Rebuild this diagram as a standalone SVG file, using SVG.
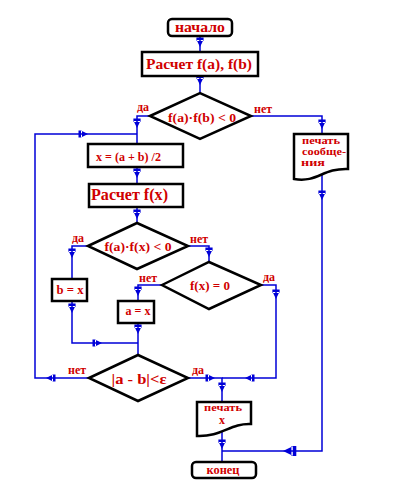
<svg xmlns="http://www.w3.org/2000/svg" xmlns:xlink="http://www.w3.org/1999/xlink" width="400" height="500" viewBox="0 0 400 500">
<style>
.sh{fill:#fff;stroke:#000;stroke-width:2.5;stroke-linejoin:miter}
.t{font-family:"Liberation Serif","Times New Roman",serif;font-weight:bold;fill:#d00000}
.c{fill:none;stroke:#0000d8;stroke-width:1.5}
.a{fill:#0000d8}
</style>
<defs>
<path id="ah" d="M0,0 L-7,-3.4 L-7,3.4 Z M-9.5,-3.6 H-6 V3.6 H-9.5 Z"/>
</defs>
<rect width="400" height="500" fill="#fff"/>
<g id="connectors">
<polyline class="c" points="200,36 200,52"/>
<polyline class="c" points="200,76 200,93"/>
<polyline class="c" points="150,116 137,116 137,144"/>
<polyline class="c" points="89,378 35,378 35,134 137,134"/>
<polyline class="c" points="137,167 137,184"/>
<polyline class="c" points="137,207 137,223"/>
<polyline class="c" points="251,116 322,116 322,134"/>
<polyline class="c" points="322,175 322,451 222,451"/>
<polyline class="c" points="88,246 72,246 72,279"/>
<polyline class="c" points="72,301 72,343 138,343"/>
<polyline class="c" points="188,246 209,246 209,262"/>
<polyline class="c" points="162,285 138,285 138,301"/>
<polyline class="c" points="138,323 138,355"/>
<polyline class="c" points="261,285 276,285 276,378 222,378"/>
<polyline class="c" points="188,378 222,378 222,402"/>
<polyline class="c" points="222,432 222,462"/>
<g class="a">
<use xlink:href="#ah" transform="translate(200,47) rotate(90)"/>
<use xlink:href="#ah" transform="translate(200,85) rotate(90)"/>
<use xlink:href="#ah" transform="translate(137,128) rotate(90)"/>
<use xlink:href="#ah" transform="translate(88,134)"/>
<use xlink:href="#ah" transform="translate(137,178) rotate(90)"/>
<use xlink:href="#ah" transform="translate(137,219) rotate(90)"/>
<use xlink:href="#ah" transform="translate(322,129) rotate(90)"/>
<use xlink:href="#ah" transform="translate(322,200) rotate(90)"/>
<use xlink:href="#ah" transform="translate(72,258) rotate(90)"/>
<use xlink:href="#ah" transform="translate(209,257) rotate(90)"/>
<use xlink:href="#ah" transform="translate(138,296) rotate(90)"/>
<use xlink:href="#ah" transform="translate(72,313) rotate(90)"/>
<use xlink:href="#ah" transform="translate(102,343)"/>
<use xlink:href="#ah" transform="translate(138,334) rotate(90)"/>
<use xlink:href="#ah" transform="translate(276,299) rotate(90)"/>
<use xlink:href="#ah" transform="translate(46,378) rotate(180)"/>
<use xlink:href="#ah" transform="translate(215,378)"/>
<use xlink:href="#ah" transform="translate(245,378) rotate(180)"/>
<use xlink:href="#ah" transform="translate(222,392) rotate(90)"/>
<use xlink:href="#ah" transform="translate(222,449) rotate(90)"/>
<use xlink:href="#ah" transform="translate(283,451) rotate(180) scale(1.4)"/>
</g>
<text class="t" x="137" y="111" font-size="12">да</text>
<text class="t" x="254" y="113" font-size="12">нет</text>
<text class="t" x="72" y="242" font-size="12">да</text>
<text class="t" x="190" y="243" font-size="12">нет</text>
<text class="t" x="139" y="282" font-size="12">нет</text>
<text class="t" x="263" y="281" font-size="12">да</text>
<text class="t" x="68" y="374" font-size="12">нет</text>
<text class="t" x="192" y="374" font-size="12">да</text>
</g>
<g id="start">
<rect class="sh" x="168" y="19" width="64" height="17" rx="4"/>
<text class="t" x="200" y="32" font-size="14" text-anchor="middle" textLength="50" lengthAdjust="spacingAndGlyphs">начало</text>
</g>
<g id="calc-fab">
<rect class="sh" x="142" y="52" width="116" height="24"/>
<text class="t" x="199" y="69" font-size="14.5" text-anchor="middle" textLength="106" lengthAdjust="spacingAndGlyphs">Расчет f(a), f(b)</text>
</g>
<g id="cond1">
<polygon class="sh" points="150,116 200,93 251,116 200,139"/>
<text class="t" x="202" y="122" font-size="13" text-anchor="middle" textLength="68" lengthAdjust="spacingAndGlyphs">f(a)·f(b) &lt; 0</text>
</g>
<g id="msg">
<path class="sh" d="M294,134 H348 V169 C322,168 318,183 294,179 Z"/>
<text class="t" x="302" y="144" font-size="10.5" textLength="38" lengthAdjust="spacingAndGlyphs">печать</text>
<text class="t" x="302" y="155" font-size="10.5" textLength="44" lengthAdjust="spacingAndGlyphs">сообще-</text>
<text class="t" x="301" y="166" font-size="10.5" textLength="24" lengthAdjust="spacingAndGlyphs">ния</text>
</g>
<g id="mid">
<rect class="sh" x="88" y="144" width="95" height="23"/>
<text class="t" x="96" y="161" font-size="13" textLength="65" lengthAdjust="spacingAndGlyphs">x = (a + b) /2</text>
</g>
<g id="calc-fx">
<rect class="sh" x="89" y="184" width="94" height="23"/>
<text class="t" x="91" y="200" font-size="16" textLength="77" lengthAdjust="spacingAndGlyphs">Расчет f(x)</text>
</g>
<g id="cond2">
<polygon class="sh" points="88,246 137,223 188,246 137,269"/>
<text class="t" x="138" y="251" font-size="13" text-anchor="middle" textLength="67" lengthAdjust="spacingAndGlyphs">f(a)·f(x) &lt; 0</text>
</g>
<g id="bx">
<rect class="sh" x="52" y="279" width="35" height="22"/>
<text class="t" x="70" y="294" font-size="13" text-anchor="middle" textLength="27" lengthAdjust="spacingAndGlyphs">b = x</text>
</g>
<g id="cond3">
<polygon class="sh" points="162,285 209,262 261,285 209,309"/>
<text class="t" x="210" y="290" font-size="13" text-anchor="middle" textLength="40" lengthAdjust="spacingAndGlyphs">f(x) = 0</text>
</g>
<g id="ax">
<rect class="sh" x="118" y="301" width="36" height="22"/>
<text class="t" x="138" y="315" font-size="13" text-anchor="middle" textLength="25" lengthAdjust="spacingAndGlyphs">a = x</text>
</g>
<g id="cond4">
<polygon class="sh" points="89,378 138,355 188,378 138,401"/>
<text class="t" x="139" y="384" font-size="15" text-anchor="middle" textLength="55" lengthAdjust="spacingAndGlyphs">|a - b|&lt;ε</text>
</g>
<g id="printx">
<path class="sh" d="M197,402 H251 V424 C230,423 222,437 197,436 Z"/>
<text class="t" x="223" y="411" font-size="11" text-anchor="middle" textLength="38" lengthAdjust="spacingAndGlyphs">печать</text>
<text class="t" x="222" y="424" font-size="12" text-anchor="middle">x</text>
</g>
<g id="end">
<rect class="sh" x="192" y="462" width="64" height="16" rx="4"/>
<text class="t" x="223" y="474" font-size="13" text-anchor="middle" textLength="33" lengthAdjust="spacingAndGlyphs">конец</text>
</g>
</svg>
